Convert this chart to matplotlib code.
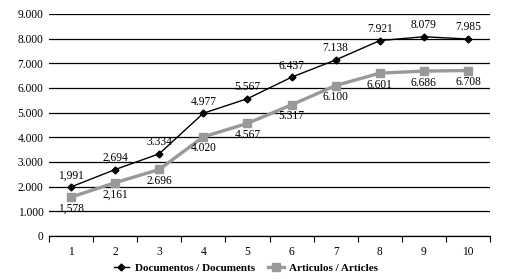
import matplotlib
matplotlib.use("Agg")
import matplotlib.pyplot as plt
from matplotlib.lines import Line2D

categories = [1, 2, 3, 4, 5, 6, 7, 8, 9, 10]
documents = [1991, 2694, 3334, 4977, 5567, 6437, 7138, 7921, 8079, 7985]
articles = [1578, 2161, 2696, 4020, 4567, 5317, 6100, 6601, 6686, 6708]
doc_labels = ["1,991", "2,694", "3.334", "4.977", "5.567", "6.437", "7.138", "7.921", "8.079", "7.985"]
art_labels = ["1,578", "2,161", "2.696", "4.020", "4.567", "5.317", "6.100", "6.601", "6.686", "6.708"]
yticks = [0, 1000, 2000, 3000, 4000, 5000, 6000, 7000, 8000, 9000]
ytick_labels = ["0", "1.000", "2.000", "3.000", "4.000", "5.000", "6.000", "7.000", "8.000", "9.000"]

plt.rcParams['font.family'] = ['Liberation Serif', 'DejaVu Serif']

fig = plt.figure(figsize=(5.09, 2.79), dpi=100)
ax = fig.add_axes([49/509, 1-236/279, 441/509, 222/279])

ax.plot(categories, articles, color='#999999', lw=2.4, marker='s', ms=6, zorder=3)
ax.plot(categories, documents, color='black', lw=1.0, marker='D', ms=3.5, zorder=4)

for x, y, s in zip(categories, documents, doc_labels):
    ax.annotate(s, (x, y), xytext=(0, 4), textcoords='offset points', ha='center', va='bottom', fontsize=8.3)
for x, y, s in zip(categories, articles, art_labels):
    ax.annotate(s, (x, y), xytext=(0, -4), textcoords='offset points', ha='center', va='top', fontsize=8.3)

ax.set_xlim(0.5, 10.5)
ax.set_ylim(0, 9000)
ax.set_yticks(yticks)
ax.set_yticklabels(ytick_labels, fontsize=8.3)
ax.set_xticks(categories)
ax.set_xticklabels([str(c) for c in categories], fontsize=8.3)
ax.set_xticks([c + 0.5 for c in [0] + categories], minor=True)
ax.tick_params(axis='x', which='major', length=0, pad=7)
ax.tick_params(axis='x', which='minor', length=4, width=0.8, direction='out')
ax.tick_params(axis='y', length=0, pad=4)
ax.yaxis.grid(True, color='black', lw=0.9)
ax.set_axisbelow(True)
for sp in ['left', 'right', 'top']:
    ax.spines[sp].set_visible(False)
ax.spines['bottom'].set_linewidth(0.9)

handles = [
    Line2D([], [], color='black', lw=1.0, marker='D', ms=3.5),
    Line2D([], [], color='#999999', lw=2.4, marker='s', ms=6),
]
fig.legend(handles, ['Documentos / Documents', 'Articulos / Articles'], loc='center',
           bbox_to_anchor=(246/509, 1-268/279), ncol=2, frameon=False,
           prop={'size': 8, 'weight': 'bold'}, handlelength=1.4, handletextpad=0.5,
           columnspacing=1.2)

fig.savefig('out.png', dpi=100)
